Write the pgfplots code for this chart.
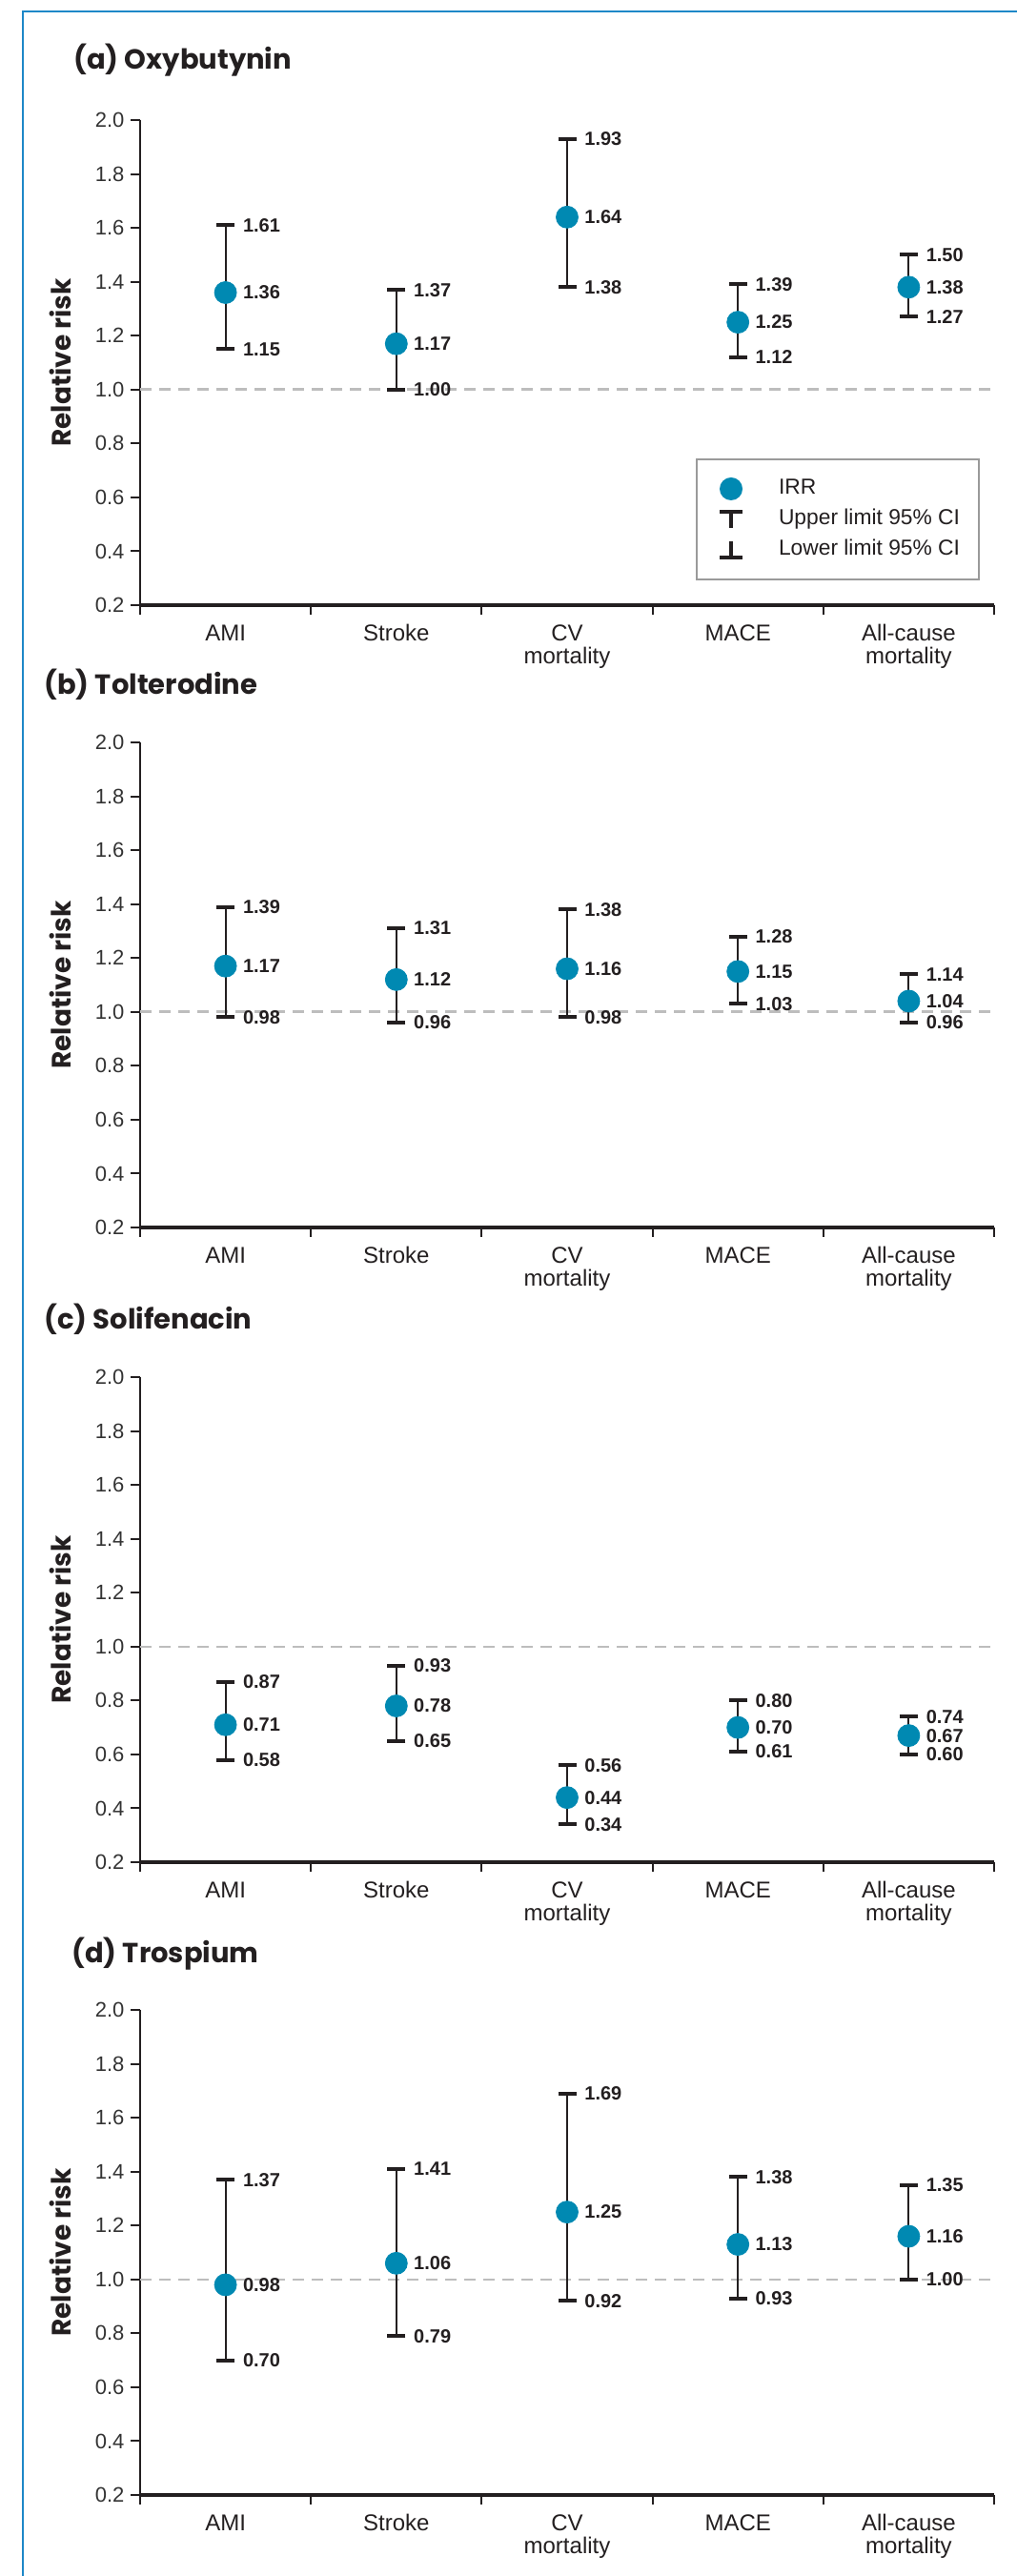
\documentclass[border=0pt]{standalone}
\usepackage{fontspec}
\setmainfont{Liberation Sans}
\newfontfamily\poppins{Poppins}
\usepackage{pgfplots}
\pgfplotsset{compat=1.18}
\usepackage{pgfplotstable}

\definecolor{irr}{HTML}{0089B2}
\definecolor{refline}{HTML}{BDBDBD}
\definecolor{frameblue}{HTML}{1E88C8}
\definecolor{ink}{HTML}{231F20}
\definecolor{ticktext}{HTML}{333333}
\definecolor{legframe}{HTML}{9A9A9A}

\pgfplotstableread{
x y lo hi
1 1.36 1.15 1.61
2 1.17 1.00 1.37
3 1.64 1.38 1.93
4 1.25 1.12 1.39
5 1.38 1.27 1.50
}\dataA
\pgfplotstableread{
x y lo hi
1 1.17 0.98 1.39
2 1.12 0.96 1.31
3 1.16 0.98 1.38
4 1.15 1.03 1.28
5 1.04 0.96 1.14
}\dataB
\pgfplotstableread{
x y lo hi
1 0.71 0.58 0.87
2 0.78 0.65 0.93
3 0.44 0.34 0.56
4 0.70 0.61 0.80
5 0.67 0.60 0.74
}\dataC
\pgfplotstableread{
x y lo hi
1 0.98 0.70 1.37
2 1.06 0.79 1.41
3 1.25 0.92 1.69
4 1.13 0.93 1.38
5 1.16 1.00 1.35
}\dataD

\pgfplotsset{
  rrpanel/.style={
    scale only axis, width=448pt, height=254.5pt,
    xmin=0.5, xmax=5.5, ymin=0.2, ymax=2.0,
    clip=false,
    axis x line=bottom, axis y line=left,
    x axis line style={-, line width=1.6pt, color=ink},
    y axis line style={-, line width=1pt, color=ink},
    tick align=outside, major tick length=4.75pt,
    tick style={line width=1pt, color=ink},
    xtick={0.5,1.5,2.5,3.5,4.5,5.5},
    xticklabels={,,,,,},
    extra x ticks={1,2,3,4,5},
    extra x tick labels={AMI,Stroke,{CV\\mortality},MACE,{All-cause\\mortality}},
    extra x tick style={tick style={draw=none}},
    xticklabel style={font=\fontsize{12}{12}\selectfont, align=center, text=ink, yshift=-2pt},
    ytick={0.2,0.4,0.6,0.8,1.0,1.2,1.4,1.6,1.8,2.0},
    yticklabel style={font=\fontsize{11}{13}\selectfont, text=ticktext,
      /pgf/number format/fixed, /pgf/number format/fixed zerofill,
      /pgf/number format/precision=1, /pgf/number format/assume math mode=true},
    ylabel={Relative risk},
    ylabel style={at={(axis description cs:-0.09375,0.5)}, anchor=center,
      font=\poppins\fontsize{14}{16}\selectfont\bfseries, text=ink},
    title style={anchor=west, inner sep=0pt,
      font=\poppins\fontsize{14.5}{16}\selectfont\bfseries, text=ink},
  },
  ciplot/.style={only marks, mark=*, mark size=5.75pt,
    mark options={fill=irr, draw=irr, line width=0.4pt},
    error bars/.cd, y dir=both, y explicit, error mark=|,
    error bar style={line width=1pt, color=ink},
    error mark options={line width=2pt, mark size=4.75pt, color=ink},
    /pgfplots/.cd},
  lblplot/.style={draw=none, mark=none, nodes near coords, point meta=y,
    nodes near coords style={anchor=west, xshift=9pt, inner sep=0pt,
      font=\fontsize{10}{12}\selectfont\bfseries, text=ink,
      /pgf/number format/fixed, /pgf/number format/fixed zerofill,
      /pgf/number format/precision=2, /pgf/number format/assume math mode=true}},
}

\newcommand{\panel}[1]{%
  \addplot[refline, line width=1.3pt, dash pattern=on 6pt off 4pt, forget plot]
    coordinates {(0.5,1) (5.5,1)};
  \addplot[forget plot, ciplot] table[x=x, y=y,
    y error plus expr=\thisrow{hi}-\thisrow{y},
    y error minus expr=\thisrow{y}-\thisrow{lo}] {#1};
  \addplot[forget plot, lblplot] table[x=x, y=hi] {#1};
  \addplot[forget plot, lblplot] table[x=x, y=y] {#1};
  \addplot[forget plot, lblplot] table[x=x, y=lo] {#1};
}

\begin{document}
\begin{tikzpicture}
\useasboundingbox (0,0) rectangle (533pt,-1351.5pt);
\draw[frameblue, line width=1.3pt] (12pt,-1352pt) -- (12pt,-6pt) -- (534pt,-6pt);

\begin{axis}[rrpanel, at={(73.5pt,-317.5pt)}, anchor=south west,
  title={(a) Oxybutynin}, title style={at={(axis description cs:-0.0781,1.1002)}},
  legend style={at={(rel axis cs:0.6507,0.3026)}, anchor=north west,
    draw=legframe, line width=1pt, fill=white, inner xsep=7pt, inner ysep=7.5pt,
    row sep=0pt, font=\fontsize{11.4}{13}\selectfont, text=ink,
    nodes={inner xsep=3pt, inner ysep=2pt, text height=9pt, text depth=3pt}},
  legend cell align=left]
  \panel{\dataA}
  \addlegendimage{legend image code/.code={\path[draw=none,fill=none] (-11pt,-6pt) rectangle (11pt,6pt);
    \path[draw=none, fill=irr] (0pt,0pt) circle (6pt);}}
  \addlegendentry{\hspace*{11pt}IRR}
  \addlegendimage{legend image code/.code={\path[draw=none,fill=none] (-11pt,-6pt) rectangle (11pt,6pt);
    \draw[ink, line width=2pt] (-6pt,4pt) -- (6pt,4pt);
    \draw[ink, line width=2pt] (0pt,4pt) -- (0pt,-4.5pt);}}
  \addlegendentry{\hspace*{11pt}Upper limit 95\% CI}
  \addlegendimage{legend image code/.code={\path[draw=none,fill=none] (-11pt,-6pt) rectangle (11pt,6pt);
    \draw[ink, line width=2pt] (-6pt,-4pt) -- (6pt,-4pt);
    \draw[ink, line width=2pt] (0pt,-4pt) -- (0pt,4.5pt);}}
  \addlegendentry{\hspace*{11pt}Lower limit 95\% CI}
\end{axis}

\begin{axis}[rrpanel, at={(73.5pt,-644pt)}, anchor=south west,
  title={(b) Tolterodine}, title style={at={(axis description cs:-0.1127,1.0963)}}]
  \panel{\dataB}
\end{axis}

\begin{axis}[rrpanel, at={(73.5pt,-977pt)}, anchor=south west,
  title={(c) Solifenacin}, title style={at={(axis description cs:-0.1127,1.0963)}}]
  \panel{\dataC}
\end{axis}

\begin{axis}[rrpanel, at={(73.5pt,-1309pt)}, anchor=south west,
  title={(d) Trospium}, title style={at={(axis description cs:-0.0804,1.0923)}}]
  \panel{\dataD}
\end{axis}
\end{tikzpicture}
\end{document}
